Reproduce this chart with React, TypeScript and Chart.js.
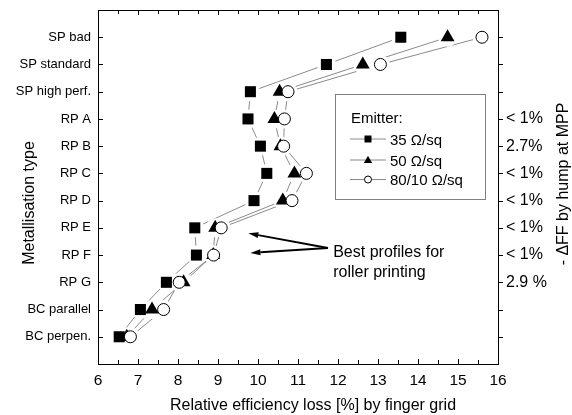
import React, { useEffect, useRef } from 'react';
import { Chart, registerables } from 'chart.js';

Chart.register(...registerables);

// ---------- data ----------
const categories = [
  'SP bad', 'SP standard', 'SP high perf.', 'RP A', 'RP B', 'RP C',
  'RP D', 'RP E', 'RP F', 'RP G', 'BC parallel', 'BC perpen.',
];
const loss35 = [13.57, 11.71, 9.81, 9.75, 10.06, 10.22, 9.9, 8.42, 8.46, 7.71, 7.06, 6.53];
const loss50 = [14.74, 12.62, 10.54, 10.41, 10.56, 10.91, 10.62, 8.93, 8.88, 8.14, 7.35, 6.72];
const loss80 = [15.6, 13.06, 10.75, 10.66, 10.64, 11.21, 10.85, 9.08, 8.89, 8.03, 7.64, 6.81];
const dffLabels = ['', '', '', '< 1%', '2.7%', '< 1%', '< 1%', '< 1%', '< 1%', '2.9 %', '', ''];
const seriesNames = ['35 \u03A9/sq', '50 \u03A9/sq', '80/10 \u03A9/sq'];
const legendTitle = 'Emitter:';
const noteLines = ['Best profiles for', 'roller printing'];
const xTitle = 'Relative efficiency loss [%] by finger grid';
const yTitle = 'Metallisation type';
const y2Title = '- \u0394FF by hump at MPP';
const X_MIN = 6;
const X_MAX = 16;

const FONT = '"Liberation Sans", Arial, Helvetica, sans-serif';
const LINE_GRAY = '#8a8a8a';

const toPoints = (vals: number[]) => vals.map((v, i) => ({ x: v, y: i + 1 }));

function drawMarker(ctx: CanvasRenderingContext2D, style: string, x: number, y: number, s: number) {
  ctx.beginPath();
  if (style === 'rect') {
    ctx.rect(x - s, y - s, 2 * s, 2 * s);
    ctx.fillStyle = '#000';
    ctx.fill();
  } else if (style === 'triangle') {
    ctx.moveTo(x, y - s * 1.15);
    ctx.lineTo(x + s * 1.15, y + s * 0.85);
    ctx.lineTo(x - s * 1.15, y + s * 0.85);
    ctx.closePath();
    ctx.fillStyle = '#000';
    ctx.fill();
  } else {
    ctx.arc(x, y, s, 0, Math.PI * 2);
    ctx.fillStyle = '#fff';
    ctx.fill();
    ctx.lineWidth = 1;
    ctx.strokeStyle = '#000';
    ctx.stroke();
  }
}

function drawArrow(ctx: CanvasRenderingContext2D, x0: number, y0: number, x1: number, y1: number) {
  const ang = Math.atan2(y1 - y0, x1 - x0);
  const headLen = 10;
  const headW = 3;
  const bx = x1 - Math.cos(ang) * headLen;
  const by = y1 - Math.sin(ang) * headLen;
  ctx.beginPath();
  ctx.moveTo(x0, y0);
  ctx.lineTo(bx, by);
  ctx.lineWidth = 2;
  ctx.strokeStyle = '#000';
  ctx.stroke();
  ctx.beginPath();
  ctx.moveTo(x1, y1);
  ctx.lineTo(bx + Math.sin(ang) * headW, by - Math.cos(ang) * headW);
  ctx.lineTo(bx - Math.sin(ang) * headW, by + Math.cos(ang) * headW);
  ctx.closePath();
  ctx.fillStyle = '#000';
  ctx.fill();
}

const decorPlugin = {
  id: 'decor',
  afterDraw(chart: any) {
    const { ctx, chartArea: a, scales } = chart;
    const xs = scales.x;
    const ys = scales.y;
    ctx.save();

    // tick marks (inward on left/top/bottom, outward on right)
    ctx.strokeStyle = '#000';
    ctx.lineWidth = 1;
    ctx.beginPath();
    for (let k = 0; k <= (X_MAX - X_MIN) * 2; k++) {
      const v = X_MIN + k * 0.5;
      const px = Math.round(xs.getPixelForValue(v)) + 0.5;
      const len = k % 2 === 0 ? 5 : 4;
      ctx.moveTo(px, a.bottom);
      ctx.lineTo(px, a.bottom - len);
      ctx.moveTo(px, a.top);
      ctx.lineTo(px, a.top + len);
    }
    categories.forEach((_, i) => {
      const py = Math.round(ys.getPixelForValue(i + 1)) + 0.5;
      ctx.moveTo(a.left, py);
      ctx.lineTo(a.left + 5, py);
      ctx.moveTo(a.right, py);
      ctx.lineTo(a.right + 5, py);
    });
    ctx.stroke();

    // legend box
    const lx = 335.5, ly = 94.5, lw = 150, lh = 105;
    ctx.fillStyle = '#fff';
    ctx.fillRect(lx, ly, lw, lh);
    ctx.strokeStyle = '#808080';
    ctx.lineWidth = 1;
    ctx.strokeRect(lx, ly, lw, lh);
    ctx.fillStyle = '#000';
    ctx.font = `15px ${FONT}`;
    ctx.textAlign = 'left';
    ctx.textBaseline = 'alphabetic';
    ctx.fillText(legendTitle, 351, 122.5);
    const rowY = [139, 160, 179.5];
    const styles = ['rect', 'triangle', 'circle'];
    const sizes = [3.5, 3.6, 3.5];
    seriesNames.forEach((name, i) => {
      const y = rowY[i];
      ctx.beginPath();
      ctx.moveTo(350, y);
      ctx.lineTo(386, y);
      ctx.strokeStyle = LINE_GRAY;
      ctx.lineWidth = 1;
      ctx.stroke();
      drawMarker(ctx, styles[i], 368, y, sizes[i]);
      ctx.fillStyle = '#000';
      ctx.font = `15px ${FONT}`;
      ctx.fillText(name, 390, y + 5.5);
    });

    // annotation arrows + text
    const tailX = xs.getPixelForValue(11.75), tailY = ys.getPixelForValue(8.74);
    drawArrow(ctx, tailX, tailY, xs.getPixelForValue(9.76), ys.getPixelForValue(8.2));
    drawArrow(ctx, tailX, tailY, xs.getPixelForValue(9.81), ys.getPixelForValue(8.92));
    ctx.fillStyle = '#000';
    ctx.font = `16px ${FONT}`;
    ctx.textAlign = 'left';
    ctx.textBaseline = 'alphabetic';
    ctx.fillText(noteLines[0], xs.getPixelForValue(11.88), 256.5);
    ctx.fillText(noteLines[1], xs.getPixelForValue(11.88), 277);

    // axis titles
    ctx.font = `16px ${FONT}`;
    ctx.textAlign = 'center';
    ctx.fillText(xTitle, 313, 410);
    ctx.save();
    ctx.translate(33.5, 203);
    ctx.rotate(-Math.PI / 2);
    ctx.fillText(yTitle, 0, 0);
    ctx.restore();
    ctx.save();
    ctx.translate(567.5, 184);
    ctx.rotate(-Math.PI / 2);
    ctx.fillText(y2Title, 0, 0);
    ctx.restore();

    ctx.restore();
  },
};

export default function App() {
  const ref = useRef<HTMLCanvasElement | null>(null);

  useEffect(() => {
    if (!ref.current) return;
    const border = { display: true, color: '#000', width: 1 };
    const noGrid = { display: false, drawTicks: false };
    const fixH = (h: number) => (s: any) => {
      s.height = h;
      s.paddingLeft = 0; s.paddingRight = 0; s.paddingTop = 0; s.paddingBottom = 0;
    };
    const fixW = (w: number) => (s: any) => {
      s.width = w;
      s.paddingLeft = 0; s.paddingRight = 0; s.paddingTop = 0; s.paddingBottom = 0;
    };
    const lineDs = (vals: number[]) => ({
      data: toPoints(vals),
      borderColor: LINE_GRAY,
      borderWidth: 1,
      pointRadius: 0,
      showLine: true,
      fill: false,
      order: 10,
    });
    const haloDs = (vals: number[]) => ({
      data: toPoints(vals),
      showLine: false,
      pointStyle: 'circle',
      pointRadius: 9.5,
      pointBackgroundColor: '#fff',
      pointBorderWidth: 0,
      pointBorderColor: '#fff',
      order: 5,
    });
    const chart = new Chart(ref.current, {
      type: 'line',
      data: {
        datasets: [
          lineDs(loss35), lineDs(loss50), lineDs(loss80),
          haloDs(loss35), haloDs(loss50), haloDs(loss80),
          {
            label: seriesNames[0], data: toPoints(loss35), showLine: false,
            pointStyle: 'rect', pointRadius: 7.8, pointBackgroundColor: '#000',
            pointBorderColor: '#000', pointBorderWidth: 0, order: 3,
          },
          {
            label: seriesNames[1], data: toPoints(loss50), showLine: false,
            pointStyle: 'triangle', pointRadius: 8, pointBackgroundColor: '#000',
            pointBorderColor: '#000', pointBorderWidth: 0, order: 2,
          },
          {
            label: seriesNames[2], data: toPoints(loss80), showLine: false,
            pointStyle: 'circle', pointRadius: 6, pointBackgroundColor: '#fff',
            pointBorderColor: '#000', pointBorderWidth: 1, order: 1,
          },
        ] as any,
      },
      options: {
        animation: false,
        responsive: false,
        layout: { padding: 0 },
        plugins: { legend: { display: false }, tooltip: { enabled: false } },
        scales: {
          x: {
            type: 'linear', position: 'bottom', min: X_MIN, max: X_MAX,
            ticks: { stepSize: 1, color: '#000', padding: 7, maxRotation: 0, font: { family: FONT, size: 15.5 } },
            grid: noGrid, border,
            afterFit: fixH(51),
          },
          x2: {
            type: 'linear', position: 'top', min: X_MIN, max: X_MAX,
            ticks: { display: false },
            grid: noGrid, border,
            afterFit: fixH(10),
          },
          y: {
            type: 'linear', position: 'left', min: 0, max: categories.length + 1, reverse: true,
            ticks: {
              stepSize: 1, autoSkip: false, color: '#000', padding: 7,
              font: { family: FONT, size: 13 },
              callback: (v: any) => categories[Number(v) - 1] ?? '',
            },
            grid: noGrid, border,
            afterFit: fixW(98),
          },
          y2: {
            type: 'linear', position: 'right', min: 0, max: categories.length + 1, reverse: true,
            ticks: {
              stepSize: 1, autoSkip: false, color: '#000', padding: 8,
              font: { family: FONT, size: 16 },
              callback: (v: any) => dffLabels[Number(v) - 1] ?? '',
            },
            grid: noGrid, border,
            afterFit: fixW(74),
          },
        },
      } as any,
      plugins: [decorPlugin],
    });
    return () => chart.destroy();
  }, []);

  return (
    <div style={{ position: 'fixed', left: 0, top: 0, width: 572, height: 415, background: '#fff' }}>
      <canvas ref={ref} width={572} height={415} style={{ display: 'block', width: 572, height: 415 }} />
    </div>
  );
}
